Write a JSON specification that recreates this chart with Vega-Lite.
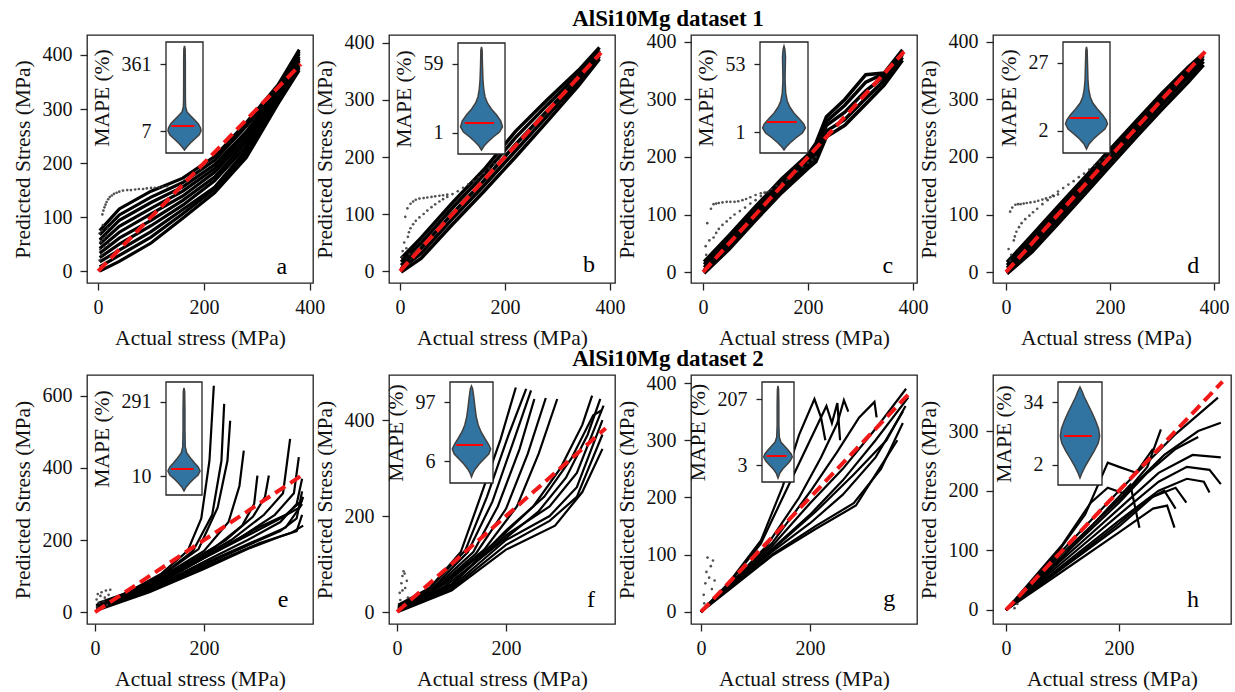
{
"$schema": "https://vega.github.io/schema/vega-lite/v6.json",
"padding": {"left": 11, "top": 7, "right": 5, "bottom": 5},
"config": {
  "font": "Liberation Serif",
  "view": {"stroke": "#222", "strokeWidth": 1.3},
  "axis": {"domain": false, "grid": false, "tickColor": "#222", "tickSize": 7, "tickWidth": 1.3, "labelFont": "Liberation Serif", "titleFont": "Liberation Serif", "labelFontSize": 20, "titleFontSize": 21.5, "labelColor": "#111", "titleColor": "#111", "titleFontWeight": "normal", "labelPadding": 4, "titlePadding": 8, "labelFlush": false, "labelOverlap": false},
  "axisX": {"labelPadding": 7, "titlePadding": 10},
  "axisY": {"labelPadding": 8},
  "title": {"font": "Liberation Serif", "fontSize": 23, "fontWeight": "bold", "color": "#000"}
},
"datasets": {
"diag": [{"x": 0}, {"x": 383}],
"one": [{}],
"ca": [
{"c":0,"x":3,"y":0},{"c":0,"x":40,"y":18},{"c":0,"x":100,"y":52},{"c":0,"x":160,"y":98},{"c":0,"x":220,"y":145},{"c":0,"x":280,"y":210},{"c":0,"x":340,"y":310},{"c":0,"x":380,"y":372},
{"c":1,"x":3,"y":8},{"c":1,"x":40,"y":29},{"c":1,"x":100,"y":63},{"c":1,"x":160,"y":106},{"c":1,"x":220,"y":152},{"c":1,"x":280,"y":217},{"c":1,"x":340,"y":314},{"c":1,"x":380,"y":376},
{"c":2,"x":3,"y":17},{"c":2,"x":40,"y":39},{"c":2,"x":100,"y":73},{"c":2,"x":160,"y":114},{"c":2,"x":220,"y":155},{"c":2,"x":280,"y":224},{"c":2,"x":340,"y":318},{"c":2,"x":380,"y":380},
{"c":3,"x":3,"y":25},{"c":3,"x":40,"y":50},{"c":3,"x":100,"y":84},{"c":3,"x":160,"y":122},{"c":3,"x":220,"y":167},{"c":3,"x":280,"y":231},{"c":3,"x":340,"y":322},{"c":3,"x":380,"y":385},
{"c":4,"x":3,"y":33},{"c":4,"x":40,"y":61},{"c":4,"x":100,"y":94},{"c":4,"x":160,"y":131},{"c":4,"x":220,"y":174},{"c":4,"x":280,"y":239},{"c":4,"x":340,"y":325},{"c":4,"x":380,"y":389},
{"c":5,"x":3,"y":42},{"c":5,"x":40,"y":72},{"c":5,"x":100,"y":106},{"c":5,"x":160,"y":139},{"c":5,"x":220,"y":183},{"c":5,"x":280,"y":246},{"c":5,"x":340,"y":330},{"c":5,"x":380,"y":393},
{"c":6,"x":3,"y":50},{"c":6,"x":40,"y":83},{"c":6,"x":100,"y":116},{"c":6,"x":160,"y":148},{"c":6,"x":220,"y":190},{"c":6,"x":280,"y":254},{"c":6,"x":340,"y":333},{"c":6,"x":380,"y":397},
{"c":7,"x":3,"y":58},{"c":7,"x":40,"y":94},{"c":7,"x":100,"y":127},{"c":7,"x":160,"y":156},{"c":7,"x":220,"y":197},{"c":7,"x":280,"y":258},{"c":7,"x":340,"y":337},{"c":7,"x":380,"y":402},
{"c":8,"x":3,"y":67},{"c":8,"x":40,"y":104},{"c":8,"x":100,"y":137},{"c":8,"x":160,"y":164},{"c":8,"x":220,"y":205},{"c":8,"x":280,"y":268},{"c":8,"x":340,"y":341},{"c":8,"x":380,"y":406},
{"c":9,"x":3,"y":75},{"c":9,"x":40,"y":115},{"c":9,"x":100,"y":148},{"c":9,"x":160,"y":172},{"c":9,"x":220,"y":212},{"c":9,"x":280,"y":275},{"c":9,"x":340,"y":345},{"c":9,"x":380,"y":410}
],
"cb": [
{"c":0,"x":2,"y":-2},{"c":0,"x":40,"y":22},{"c":0,"x":100,"y":82},{"c":0,"x":160,"y":140},{"c":0,"x":220,"y":200},{"c":0,"x":280,"y":262},{"c":0,"x":340,"y":325},{"c":0,"x":380,"y":372},
{"c":1,"x":2,"y":4},{"c":1,"x":40,"y":31},{"c":1,"x":100,"y":92},{"c":1,"x":160,"y":150},{"c":1,"x":220,"y":211},{"c":1,"x":280,"y":272},{"c":1,"x":340,"y":332},{"c":1,"x":380,"y":377},
{"c":2,"x":2,"y":10},{"c":2,"x":40,"y":40},{"c":2,"x":100,"y":101},{"c":2,"x":160,"y":159},{"c":2,"x":220,"y":222},{"c":2,"x":280,"y":281},{"c":2,"x":340,"y":338},{"c":2,"x":380,"y":382},
{"c":3,"x":2,"y":16},{"c":3,"x":40,"y":49},{"c":3,"x":100,"y":111},{"c":3,"x":160,"y":169},{"c":3,"x":220,"y":234},{"c":3,"x":280,"y":291},{"c":3,"x":340,"y":345},{"c":3,"x":380,"y":387},
{"c":4,"x":2,"y":22},{"c":4,"x":40,"y":58},{"c":4,"x":100,"y":120},{"c":4,"x":160,"y":178},{"c":4,"x":220,"y":245},{"c":4,"x":280,"y":300},{"c":4,"x":340,"y":352},{"c":4,"x":380,"y":392}
],
"cc": [
{"c":0,"x":2,"y":-2},{"c":0,"x":50,"y":40},{"c":0,"x":100,"y":90},{"c":0,"x":150,"y":138},{"c":0,"x":200,"y":180},{"c":0,"x":215,"y":192},{"c":0,"x":235,"y":235},{"c":0,"x":270,"y":255},{"c":0,"x":310,"y":292},{"c":0,"x":345,"y":325},{"c":0,"x":380,"y":368},
{"c":1,"x":2,"y":3},{"c":1,"x":50,"y":46},{"c":1,"x":100,"y":96},{"c":1,"x":150,"y":144},{"c":1,"x":200,"y":186},{"c":1,"x":215,"y":200},{"c":1,"x":235,"y":245},{"c":1,"x":270,"y":265},{"c":1,"x":310,"y":302},{"c":1,"x":345,"y":333},{"c":1,"x":380,"y":373},
{"c":2,"x":2,"y":8},{"c":2,"x":50,"y":52},{"c":2,"x":100,"y":102},{"c":2,"x":150,"y":150},{"c":2,"x":200,"y":192},{"c":2,"x":215,"y":208},{"c":2,"x":235,"y":255},{"c":2,"x":270,"y":278},{"c":2,"x":310,"y":315},{"c":2,"x":345,"y":340},{"c":2,"x":380,"y":378},
{"c":3,"x":2,"y":13},{"c":3,"x":50,"y":58},{"c":3,"x":100,"y":108},{"c":3,"x":150,"y":156},{"c":3,"x":200,"y":198},{"c":3,"x":215,"y":216},{"c":3,"x":235,"y":262},{"c":3,"x":270,"y":290},{"c":3,"x":310,"y":330},{"c":3,"x":345,"y":345},{"c":3,"x":380,"y":382},
{"c":4,"x":2,"y":18},{"c":4,"x":50,"y":64},{"c":4,"x":100,"y":114},{"c":4,"x":150,"y":162},{"c":4,"x":200,"y":204},{"c":4,"x":215,"y":224},{"c":4,"x":235,"y":270},{"c":4,"x":270,"y":300},{"c":4,"x":310,"y":343},{"c":4,"x":345,"y":346},{"c":4,"x":380,"y":386}
],
"cd": [
{"c":0,"x":2,"y":-3},{"c":0,"x":50,"y":35},{"c":0,"x":100,"y":84},{"c":0,"x":150,"y":134},{"c":0,"x":200,"y":184},{"c":0,"x":250,"y":234},{"c":0,"x":300,"y":283},{"c":0,"x":350,"y":330},{"c":0,"x":380,"y":360},
{"c":1,"x":2,"y":2},{"c":1,"x":50,"y":42},{"c":1,"x":100,"y":92},{"c":1,"x":150,"y":142},{"c":1,"x":200,"y":192},{"c":1,"x":250,"y":242},{"c":1,"x":300,"y":291},{"c":1,"x":350,"y":338},{"c":1,"x":380,"y":366},
{"c":2,"x":2,"y":7},{"c":2,"x":50,"y":50},{"c":2,"x":100,"y":100},{"c":2,"x":150,"y":150},{"c":2,"x":200,"y":200},{"c":2,"x":250,"y":250},{"c":2,"x":300,"y":299},{"c":2,"x":350,"y":345},{"c":2,"x":380,"y":371},
{"c":3,"x":2,"y":12},{"c":3,"x":50,"y":57},{"c":3,"x":100,"y":107},{"c":3,"x":150,"y":157},{"c":3,"x":200,"y":207},{"c":3,"x":250,"y":257},{"c":3,"x":300,"y":306},{"c":3,"x":350,"y":351},{"c":3,"x":380,"y":376},
{"c":4,"x":2,"y":17},{"c":4,"x":50,"y":64},{"c":4,"x":100,"y":114},{"c":4,"x":150,"y":163},{"c":4,"x":200,"y":213},{"c":4,"x":250,"y":262},{"c":4,"x":300,"y":311},{"c":4,"x":350,"y":356},{"c":4,"x":380,"y":380}
],
"ce": [
{"c":1,"x":2,"y":15},{"c":1,"x":60,"y":55},{"c":1,"x":120,"y":105},{"c":1,"x":170,"y":170},{"c":1,"x":195,"y":260},{"c":1,"x":210,"y":420},{"c":1,"x":218,"y":628},
{"c":2,"x":2,"y":20},{"c":2,"x":60,"y":55},{"c":2,"x":120,"y":100},{"c":2,"x":180,"y":170},{"c":2,"x":215,"y":270},{"c":2,"x":232,"y":420},{"c":2,"x":237,"y":578},
{"c":3,"x":2,"y":10},{"c":3,"x":60,"y":50},{"c":3,"x":130,"y":110},{"c":3,"x":190,"y":175},{"c":3,"x":225,"y":290},{"c":3,"x":243,"y":420},{"c":3,"x":248,"y":531},
{"c":4,"x":2,"y":18},{"c":4,"x":60,"y":48},{"c":4,"x":130,"y":105},{"c":4,"x":200,"y":170},{"c":4,"x":245,"y":250},{"c":4,"x":265,"y":350},{"c":4,"x":273,"y":448},
{"c":5,"x":5,"y":25},{"c":5,"x":80,"y":65},{"c":5,"x":150,"y":120},{"c":5,"x":220,"y":180},{"c":5,"x":270,"y":240},{"c":5,"x":292,"y":300},{"c":5,"x":298,"y":379},
{"c":6,"x":5,"y":15},{"c":6,"x":80,"y":60},{"c":6,"x":160,"y":125},{"c":6,"x":240,"y":200},{"c":6,"x":290,"y":265},{"c":6,"x":312,"y":320},{"c":6,"x":319,"y":379},
{"c":7,"x":5,"y":20},{"c":7,"x":90,"y":65},{"c":7,"x":170,"y":130},{"c":7,"x":250,"y":200},{"c":7,"x":310,"y":270},{"c":7,"x":345,"y":330},{"c":7,"x":358,"y":481},
{"c":8,"x":5,"y":12},{"c":8,"x":90,"y":60},{"c":8,"x":170,"y":125},{"c":8,"x":260,"y":200},{"c":8,"x":330,"y":270},{"c":8,"x":365,"y":330},{"c":8,"x":374,"y":430},
{"c":9,"x":5,"y":10},{"c":9,"x":100,"y":62},{"c":9,"x":200,"y":140},{"c":9,"x":280,"y":200},{"c":9,"x":340,"y":250},{"c":9,"x":370,"y":300},{"c":9,"x":380,"y":370},
{"c":10,"x":5,"y":8},{"c":10,"x":100,"y":58},{"c":10,"x":200,"y":130},{"c":10,"x":280,"y":185},{"c":10,"x":340,"y":225},{"c":10,"x":370,"y":260},{"c":10,"x":380,"y":335},
{"c":11,"x":5,"y":5},{"c":11,"x":100,"y":55},{"c":11,"x":200,"y":120},{"c":11,"x":280,"y":175},{"c":11,"x":340,"y":210},{"c":11,"x":370,"y":225},{"c":11,"x":380,"y":270},
{"c":12,"x":5,"y":12},{"c":12,"x":100,"y":60},{"c":12,"x":200,"y":135},{"c":12,"x":290,"y":195},{"c":12,"x":350,"y":235},{"c":12,"x":380,"y":300},
{"c":13,"x":5,"y":15},{"c":13,"x":100,"y":66},{"c":13,"x":200,"y":150},{"c":13,"x":290,"y":220},{"c":13,"x":340,"y":260},{"c":13,"x":375,"y":290},{"c":13,"x":382,"y":320},
{"c":14,"x":5,"y":10},{"c":14,"x":100,"y":58},{"c":14,"x":200,"y":125},{"c":14,"x":300,"y":190},{"c":14,"x":360,"y":220},{"c":14,"x":382,"y":240},
{"c":15,"x":5,"y":18},{"c":15,"x":110,"y":72},{"c":15,"x":210,"y":160},{"c":15,"x":300,"y":235},{"c":15,"x":350,"y":270},{"c":15,"x":380,"y":310}
],
"cf": [
{"c":1,"x":2,"y":10},{"c":1,"x":60,"y":50},{"c":1,"x":117,"y":125},{"c":1,"x":150,"y":230},{"c":1,"x":190,"y":360},{"c":1,"x":218,"y":468},
{"c":2,"x":2,"y":15},{"c":2,"x":60,"y":50},{"c":2,"x":125,"y":128},{"c":2,"x":165,"y":240},{"c":2,"x":205,"y":370},{"c":2,"x":237,"y":465},
{"c":3,"x":2,"y":8},{"c":3,"x":65,"y":50},{"c":3,"x":130,"y":125},{"c":3,"x":175,"y":230},{"c":3,"x":215,"y":360},{"c":3,"x":246,"y":462},
{"c":4,"x":2,"y":12},{"c":4,"x":70,"y":52},{"c":4,"x":140,"y":125},{"c":4,"x":185,"y":220},{"c":4,"x":225,"y":340},{"c":4,"x":252,"y":444},
{"c":5,"x":2,"y":5},{"c":5,"x":70,"y":48},{"c":5,"x":145,"y":122},{"c":5,"x":200,"y":215},{"c":5,"x":240,"y":330},{"c":5,"x":273,"y":446},
{"c":6,"x":2,"y":10},{"c":6,"x":80,"y":55},{"c":6,"x":160,"y":130},{"c":6,"x":220,"y":220},{"c":6,"x":260,"y":330},{"c":6,"x":294,"y":444},
{"c":7,"x":2,"y":8},{"c":7,"x":90,"y":60},{"c":7,"x":180,"y":145},{"c":7,"x":250,"y":220},{"c":7,"x":300,"y":300},{"c":7,"x":340,"y":390},{"c":7,"x":358,"y":451},
{"c":8,"x":2,"y":6},{"c":8,"x":90,"y":55},{"c":8,"x":190,"y":145},{"c":8,"x":260,"y":210},{"c":8,"x":310,"y":280},{"c":8,"x":350,"y":370},{"c":8,"x":373,"y":444},
{"c":9,"x":2,"y":4},{"c":9,"x":100,"y":58},{"c":9,"x":200,"y":160},{"c":9,"x":280,"y":220},{"c":9,"x":330,"y":290},{"c":9,"x":379,"y":430},
{"c":10,"x":2,"y":3},{"c":10,"x":100,"y":52},{"c":10,"x":200,"y":150},{"c":10,"x":280,"y":200},{"c":10,"x":330,"y":260},{"c":10,"x":377,"y":400},
{"c":11,"x":2,"y":2},{"c":11,"x":100,"y":48},{"c":11,"x":200,"y":140},{"c":11,"x":280,"y":190},{"c":11,"x":330,"y":240},{"c":11,"x":377,"y":370},
{"c":12,"x":2,"y":0},{"c":12,"x":100,"y":45},{"c":12,"x":200,"y":130},{"c":12,"x":290,"y":180},{"c":12,"x":340,"y":250},{"c":12,"x":377,"y":340},
{"c":13,"x":2,"y":5},{"c":13,"x":100,"y":55},{"c":13,"x":200,"y":170},{"c":13,"x":270,"y":240},{"c":13,"x":320,"y":320},{"c":13,"x":360,"y":410},{"c":13,"x":375,"y":420}
],
"cg": [
{"c":1,"x":0,"y":0},{"c":1,"x":50,"y":50},{"c":1,"x":110,"y":125},{"c":1,"x":150,"y":220},{"c":1,"x":180,"y":310},{"c":1,"x":208,"y":372},{"c":1,"x":220,"y":340},{"c":1,"x":228,"y":300},
{"c":2,"x":0,"y":0},{"c":2,"x":50,"y":48},{"c":2,"x":110,"y":120},{"c":2,"x":160,"y":220},{"c":2,"x":200,"y":300},{"c":2,"x":230,"y":360},{"c":2,"x":240,"y":330},{"c":2,"x":250,"y":365},{"c":2,"x":255,"y":300},
{"c":3,"x":0,"y":2},{"c":3,"x":60,"y":55},{"c":3,"x":120,"y":115},{"c":3,"x":180,"y":200},{"c":3,"x":220,"y":270},{"c":3,"x":250,"y":330},{"c":3,"x":262,"y":370},{"c":3,"x":270,"y":350},
{"c":4,"x":0,"y":0},{"c":4,"x":60,"y":55},{"c":4,"x":130,"y":120},{"c":4,"x":200,"y":210},{"c":4,"x":250,"y":280},{"c":4,"x":290,"y":340},{"c":4,"x":318,"y":367},{"c":4,"x":322,"y":340},
{"c":5,"x":0,"y":0},{"c":5,"x":60,"y":52},{"c":5,"x":130,"y":115},{"c":5,"x":200,"y":190},{"c":5,"x":260,"y":250},{"c":5,"x":320,"y":320},{"c":5,"x":376,"y":390},
{"c":6,"x":0,"y":0},{"c":6,"x":60,"y":50},{"c":6,"x":130,"y":110},{"c":6,"x":200,"y":170},{"c":6,"x":260,"y":230},{"c":6,"x":320,"y":300},{"c":6,"x":380,"y":375},
{"c":7,"x":0,"y":0},{"c":7,"x":60,"y":50},{"c":7,"x":130,"y":105},{"c":7,"x":200,"y":155},{"c":7,"x":260,"y":205},{"c":7,"x":320,"y":270},{"c":7,"x":370,"y":350},
{"c":8,"x":0,"y":0},{"c":8,"x":60,"y":48},{"c":8,"x":130,"y":100},{"c":8,"x":210,"y":150},{"c":8,"x":280,"y":190},{"c":8,"x":330,"y":250},{"c":8,"x":370,"y":330},
{"c":9,"x":0,"y":0},{"c":9,"x":60,"y":45},{"c":9,"x":130,"y":98},{"c":9,"x":210,"y":145},{"c":9,"x":284,"y":186},{"c":9,"x":336,"y":264},{"c":9,"x":360,"y":300},
{"c":10,"x":0,"y":0},{"c":10,"x":60,"y":52},{"c":10,"x":130,"y":108},{"c":10,"x":210,"y":175},{"c":10,"x":280,"y":240},{"c":10,"x":340,"y":300},{"c":10,"x":375,"y":360}
],
"ch": [
{"c":1,"x":0,"y":0},{"c":1,"x":100,"y":100},{"c":1,"x":200,"y":200},{"c":1,"x":300,"y":295},{"c":1,"x":375,"y":356},
{"c":2,"x":0,"y":0},{"c":2,"x":100,"y":95},{"c":2,"x":200,"y":185},{"c":2,"x":280,"y":260},{"c":2,"x":340,"y":300},{"c":2,"x":380,"y":314},
{"c":3,"x":0,"y":0},{"c":3,"x":100,"y":85},{"c":3,"x":200,"y":170},{"c":3,"x":270,"y":230},{"c":3,"x":330,"y":260},{"c":3,"x":380,"y":256},
{"c":4,"x":0,"y":0},{"c":4,"x":100,"y":80},{"c":4,"x":200,"y":160},{"c":4,"x":270,"y":215},{"c":4,"x":320,"y":240},{"c":4,"x":360,"y":235},{"c":4,"x":380,"y":211},
{"c":5,"x":0,"y":0},{"c":5,"x":100,"y":75},{"c":5,"x":200,"y":150},{"c":5,"x":270,"y":200},{"c":5,"x":320,"y":220},{"c":5,"x":350,"y":215},{"c":5,"x":360,"y":197},
{"c":6,"x":0,"y":0},{"c":6,"x":100,"y":70},{"c":6,"x":200,"y":140},{"c":6,"x":260,"y":190},{"c":6,"x":300,"y":205},{"c":6,"x":319,"y":180},
{"c":7,"x":0,"y":0},{"c":7,"x":100,"y":65},{"c":7,"x":200,"y":130},{"c":7,"x":260,"y":170},{"c":7,"x":285,"y":175},{"c":7,"x":298,"y":138},
{"c":8,"x":0,"y":0},{"c":8,"x":100,"y":110},{"c":8,"x":150,"y":180},{"c":8,"x":180,"y":205},{"c":8,"x":210,"y":195},{"c":8,"x":250,"y":240},{"c":8,"x":274,"y":303},
{"c":9,"x":0,"y":0},{"c":9,"x":90,"y":95},{"c":9,"x":140,"y":160},{"c":9,"x":180,"y":247},{"c":9,"x":200,"y":240},{"c":9,"x":230,"y":230},{"c":9,"x":260,"y":270},
{"c":10,"x":0,"y":0},{"c":10,"x":100,"y":88},{"c":10,"x":180,"y":170},{"c":10,"x":220,"y":210},{"c":10,"x":236,"y":138},
{"c":11,"x":0,"y":0},{"c":11,"x":100,"y":90},{"c":11,"x":200,"y":180},{"c":11,"x":250,"y":230},{"c":11,"x":300,"y":270},{"c":11,"x":340,"y":290},
{"c":12,"x":0,"y":0},{"c":12,"x":100,"y":72},{"c":12,"x":200,"y":145},{"c":12,"x":250,"y":185},{"c":12,"x":280,"y":200},{"c":12,"x":300,"y":170}
],
"da": [{"x":8,"y":105},{"x":10,"y":112},{"x":12,"y":118},{"x":14,"y":123},{"x":16,"y":128},{"x":19,"y":133},{"x":22,"y":137},{"x":26,"y":140},{"x":30,"y":143},{"x":35,"y":145},{"x":40,"y":147},{"x":47,"y":149},{"x":55,"y":150},{"x":62,"y":150},{"x":70,"y":151},{"x":77,"y":152},{"x":85,"y":152},{"x":92,"y":153},{"x":100,"y":154},{"x":107,"y":154},{"x":115,"y":155},{"x":122,"y":156},{"x":130,"y":157},{"x":3,"y":70},{"x":5,"y":55},{"x":4,"y":40},{"x":7,"y":75},{"x":10,"y":60},{"x":6,"y":30},{"x":9,"y":85},{"x":12,"y":45},{"x":15,"y":65},{"x":3,"y":20},{"x":18,"y":80},{"x":20,"y":50}],
"db": [{"x":15,"y":60},{"x":17,"y":68},{"x":20,"y":75},{"x":25,"y":82},{"x":30,"y":88},{"x":37,"y":94},{"x":45,"y":100},{"x":52,"y":106},{"x":60,"y":112},{"x":67,"y":117},{"x":75,"y":122},{"x":82,"y":126},{"x":90,"y":130},{"x":100,"y":135},{"x":110,"y":140},{"x":120,"y":146},{"x":130,"y":152},{"x":140,"y":158},{"x":150,"y":165},{"x":160,"y":172},{"x":170,"y":180},{"x":180,"y":187},{"x":190,"y":195},{"x":10,"y":95},{"x":14,"y":110},{"x":20,"y":118},{"x":25,"y":122},{"x":30,"y":125},{"x":37,"y":127},{"x":45,"y":128},{"x":52,"y":129},{"x":60,"y":130},{"x":67,"y":131},{"x":75,"y":132},{"x":82,"y":133},{"x":90,"y":134},{"x":5,"y":35},{"x":8,"y":50},{"x":12,"y":40},{"x":18,"y":30},{"x":4,"y":25}],
"dc": [{"x":20,"y":60},{"x":25,"y":68},{"x":30,"y":75},{"x":37,"y":82},{"x":45,"y":88},{"x":52,"y":94},{"x":60,"y":100},{"x":70,"y":106},{"x":80,"y":112},{"x":90,"y":119},{"x":100,"y":125},{"x":110,"y":132},{"x":120,"y":138},{"x":130,"y":144},{"x":140,"y":150},{"x":150,"y":155},{"x":160,"y":160},{"x":170,"y":168},{"x":180,"y":175},{"x":190,"y":183},{"x":200,"y":190},{"x":208,"y":195},{"x":215,"y":200},{"x":15,"y":110},{"x":20,"y":118},{"x":25,"y":119},{"x":30,"y":120},{"x":37,"y":121},{"x":45,"y":122},{"x":52,"y":122},{"x":60,"y":122},{"x":67,"y":123},{"x":75,"y":125},{"x":82,"y":127},{"x":90,"y":130},{"x":100,"y":134},{"x":110,"y":137},{"x":117,"y":138},{"x":125,"y":140},{"x":5,"y":45},{"x":8,"y":85},{"x":12,"y":55},{"x":6,"y":30}],
"dd": [{"x":15,"y":55},{"x":17,"y":62},{"x":20,"y":70},{"x":25,"y":78},{"x":30,"y":85},{"x":37,"y":92},{"x":45,"y":98},{"x":52,"y":104},{"x":60,"y":110},{"x":70,"y":118},{"x":80,"y":125},{"x":90,"y":133},{"x":100,"y":140},{"x":110,"y":146},{"x":120,"y":152},{"x":130,"y":158},{"x":140,"y":165},{"x":150,"y":171},{"x":160,"y":178},{"x":170,"y":185},{"x":180,"y":192},{"x":190,"y":198},{"x":200,"y":205},{"x":8,"y":105},{"x":12,"y":112},{"x":18,"y":117},{"x":23,"y":118},{"x":28,"y":118},{"x":34,"y":119},{"x":40,"y":120},{"x":47,"y":121},{"x":55,"y":122},{"x":62,"y":124},{"x":70,"y":126},{"x":77,"y":128},{"x":85,"y":130},{"x":92,"y":132},{"x":100,"y":135},{"x":5,"y":40},{"x":8,"y":20},{"x":10,"y":30}],
"de": [{"x":3,"y":35},{"x":5,"y":50},{"x":8,"y":25},{"x":10,"y":45},{"x":12,"y":55},{"x":15,"y":30},{"x":18,"y":40},{"x":20,"y":60},{"x":25,"y":48},{"x":28,"y":62},{"x":4,"y":15},{"x":22,"y":20}],
"df": [{"x":5,"y":40},{"x":8,"y":60},{"x":10,"y":75},{"x":12,"y":85},{"x":15,"y":50},{"x":18,"y":65},{"x":20,"y":30},{"x":6,"y":25},{"x":10,"y":45},{"x":14,"y":80}],
"dg": [{"x":5,"y":30},{"x":8,"y":50},{"x":10,"y":70},{"x":12,"y":95},{"x":15,"y":60},{"x":18,"y":80},{"x":20,"y":40},{"x":22,"y":90},{"x":6,"y":15},{"x":25,"y":55}],
"dh": [{"x":5,"y":5},{"x":10,"y":8},{"x":15,"y":3},{"x":20,"y":10}],
"va": [{"v":2.27,"w":0},{"v":2.71,"w":0.14},{"v":3.44,"w":0.36},{"v":4.36,"w":0.62},{"v":5.52,"w":0.88},{"v":7.0,"w":1.0},{"v":8.36,"w":0.97},{"v":10.6,"w":0.84},{"v":13.4,"w":0.62},{"v":17.0,"w":0.38},{"v":21.6,"w":0.15},{"v":29.0,"w":0.07},{"v":44,"w":0.055},{"v":144,"w":0.05},{"v":472,"w":0.05},{"v":906,"w":0.04},{"v":1082,"w":0}],
"vb": [{"v":0.366,"w":0},{"v":0.464,"w":0.12},{"v":0.588,"w":0.3},{"v":0.789,"w":0.56},{"v":1.06,"w":0.86},{"v":1.426,"w":1.0},{"v":2.03,"w":0.92},{"v":2.9,"w":0.72},{"v":4.13,"w":0.47},{"v":5.89,"w":0.28},{"v":8.4,"w":0.17},{"v":12.7,"w":0.11},{"v":22.9,"w":0.07},{"v":55.7,"w":0.045},{"v":135,"w":0.03},{"v":161,"w":0}],
"vc": [{"v":0.35,"w":0},{"v":0.4166,"w":0.1},{"v":0.526,"w":0.28},{"v":0.705,"w":0.55},{"v":0.943,"w":0.86},{"v":1.263,"w":1.0},{"v":1.596,"w":0.92},{"v":2.136,"w":0.72},{"v":3.03,"w":0.46},{"v":4.3,"w":0.27},{"v":6.11,"w":0.15},{"v":9.74,"w":0.08},{"v":20.8,"w":0.05},{"v":44.5,"w":0.06},{"v":79.7,"w":0.07},{"v":127,"w":0.04},{"v":151.6,"w":0}],
"vd": [{"v":1.004,"w":0},{"v":1.216,"w":0.12},{"v":1.472,"w":0.33},{"v":1.783,"w":0.6},{"v":2.16,"w":0.88},{"v":2.615,"w":1.0},{"v":3.05,"w":0.94},{"v":3.69,"w":0.77},{"v":4.64,"w":0.52},{"v":5.84,"w":0.3},{"v":7.35,"w":0.18},{"v":9.6,"w":0.11},{"v":14.08,"w":0.07},{"v":25.0,"w":0.05},{"v":44.4,"w":0.03},{"v":49.8,"w":0}],
"ve": [{"v":5.05,"w":0},{"v":6.06,"w":0.14},{"v":7.27,"w":0.35},{"v":8.72,"w":0.6},{"v":10.47,"w":0.88},{"v":12.56,"w":1.0},{"v":15.07,"w":0.88},{"v":18.1,"w":0.66},{"v":22.7,"w":0.4},{"v":28.5,"w":0.17},{"v":37.5,"w":0.08},{"v":81.3,"w":0.06},{"v":202,"w":0.06},{"v":480,"w":0.04},{"v":550.7,"w":0}],
"vf": [{"v":2.82,"w":0},{"v":3.41,"w":0.08},{"v":4.12,"w":0.2},{"v":5.21,"w":0.4},{"v":6.6,"w":0.65},{"v":8.35,"w":0.9},{"v":10.57,"w":1.0},{"v":13.38,"w":0.88},{"v":17.76,"w":0.68},{"v":23.6,"w":0.5},{"v":32.8,"w":0.35},{"v":47.8,"w":0.25},{"v":76.6,"w":0.18},{"v":122.8,"w":0.12},{"v":179,"w":0.06},{"v":206.3,"w":0}],
"vg": [{"v":1.303,"w":0},{"v":1.796,"w":0.13},{"v":2.32,"w":0.33},{"v":3.0,"w":0.6},{"v":3.88,"w":0.85},{"v":5.01,"w":1.0},{"v":6.08,"w":0.92},{"v":7.85,"w":0.7},{"v":10.15,"w":0.45},{"v":13.12,"w":0.2},{"v":18.08,"w":0.09},{"v":39.0,"w":0.06},{"v":140.9,"w":0.06},{"v":393,"w":0.04},{"v":476.9,"w":0}],
"vh": [{"v":1.115,"w":0},{"v":1.395,"w":0.1},{"v":1.83,"w":0.25},{"v":2.62,"w":0.48},{"v":3.75,"w":0.72},{"v":5.38,"w":0.93},{"v":7.37,"w":1.0},{"v":10.1,"w":0.95},{"v":14.47,"w":0.8},{"v":20.7,"w":0.62},{"v":29.7,"w":0.42},{"v":42.6,"w":0.22},{"v":55.8,"w":0.1},{"v":66.8,"w":0}]
},
"columns": 4,
"spacing": {"row": 92, "column": 76},
"bounds": "flush",
"concat": [
{"width": 226, "height": 248,
 "layer": [
  {"layer": [
   {"data": {"name": "ca"}, "mark": {"type": "line", "color": "#000", "strokeWidth": 3.2},
    "encoding": {"x": {"field": "x", "type": "quantitative", "scale": {"domain": [-21, 406], "nice": false, "zero": false}, "axis": {"values": [0, 200, 400], "title": "Actual stress (MPa)"}},
                 "y": {"field": "y", "type": "quantitative", "scale": {"domain": [-22, 437], "nice": false, "zero": false}, "axis": {"values": [0, 100, 200, 300, 400], "title": "Predicted Stress (MPa)"}},
                 "detail": {"field": "c", "type": "nominal"}}},
   {"data": {"name": "da"}, "mark": {"type": "circle", "size": 7, "color": "#333", "opacity": 0.85},
    "encoding": {"x": {"field": "x", "type": "quantitative"}, "y": {"field": "y", "type": "quantitative"}}},
   {"data": {"name": "diag"}, "mark": {"type": "line", "color": "#f21818", "strokeWidth": 4, "strokeDash": [12, 6]},
    "encoding": {"x": {"field": "x", "type": "quantitative"}, "y": {"field": "x", "type": "quantitative"}}},
   {"data": {"name": "one"}, "mark": {"type": "text", "fontSize": 24, "align": "center", "baseline": "alphabetic", "color": "#000"},
    "encoding": {"x": {"datum": 347, "type": "quantitative"}, "y": {"datum": -5, "type": "quantitative"}, "text": {"value": "a"}}}
  ]},
  {"layer": [
   {"data": {"name": "one"}, "mark": {"type": "rect", "fill": "#fff", "stroke": "#222", "strokeWidth": 1.3},
    "encoding": {"x": {"datum": -0.06, "type": "quantitative", "scale": {"domain": [-0.06, 1.06], "range": [79, 116], "nice": false, "zero": false}, "axis": null},
                 "x2": {"datum": 1.06},
                 "y": {"datum": 1.9, "type": "quantitative", "scale": {"type": "log", "domain": [1.9, 1370], "range": [118, 7], "nice": false}, "axis": {"orient": "left", "offset": -79, "values": [7, 361], "format": "d", "title": "MAPE (%)", "tickSize": 6, "labelPadding": 9, "titlePadding": 8}},
                 "y2": {"datum": 1370}}},
   {"data": {"name": "va"}, "mark": {"type": "area", "orient": "horizontal", "fill": "#3274a1", "stroke": "#404040", "strokeWidth": 1.5},
    "encoding": {"y": {"field": "v", "type": "quantitative"}, "x": {"field": "w", "type": "quantitative", "stack": "center", "impute": null}}},
   {"data": {"name": "one"}, "mark": {"type": "rule", "color": "#ff0000", "strokeWidth": 2},
    "encoding": {"x": {"datum": 0.1, "type": "quantitative"}, "x2": {"datum": 0.8}, "y": {"datum": 9.4, "type": "quantitative"}}}
  ]}
 ],
 "resolve": {"scale": {"x": "independent", "y": "independent"}}
},
{"width": 226, "height": 248,
 "title": {"text": "AlSi10Mg dataset 1", "frame": "group", "anchor": "middle", "dx": 166, "offset": -16, "baseline": "alphabetic"},
 "layer": [
  {"layer": [
   {"data": {"name": "cb"}, "mark": {"type": "line", "color": "#000", "strokeWidth": 3.5},
    "encoding": {"x": {"field": "x", "type": "quantitative", "scale": {"domain": [-21, 409.5], "nice": false, "zero": false}, "axis": {"values": [0, 200, 400], "title": "Actual stress (MPa)"}},
                 "y": {"field": "y", "type": "quantitative", "scale": {"domain": [-21, 414], "nice": false, "zero": false}, "axis": {"values": [0, 100, 200, 300, 400], "title": "Predicted Stress (MPa)"}},
                 "detail": {"field": "c", "type": "nominal"}}},
   {"data": {"name": "db"}, "mark": {"type": "circle", "size": 7, "color": "#333", "opacity": 0.85},
    "encoding": {"x": {"field": "x", "type": "quantitative"}, "y": {"field": "y", "type": "quantitative"}}},
   {"data": {"name": "diag"}, "mark": {"type": "line", "color": "#f21818", "strokeWidth": 4, "strokeDash": [12, 6]},
    "encoding": {"x": {"field": "x", "type": "quantitative"}, "y": {"field": "x", "type": "quantitative"}}},
   {"data": {"name": "one"}, "mark": {"type": "text", "fontSize": 24, "align": "center", "baseline": "alphabetic", "color": "#000"},
    "encoding": {"x": {"datum": 360, "type": "quantitative"}, "y": {"datum": -2, "type": "quantitative"}, "text": {"value": "b"}}}
  ]},
  {"layer": [
   {"data": {"name": "one"}, "mark": {"type": "rect", "fill": "#fff", "stroke": "#222", "strokeWidth": 1.3},
    "encoding": {"x": {"datum": -0.06, "type": "quantitative", "scale": {"domain": [-0.06, 1.06], "range": [69, 116], "nice": false, "zero": false}, "axis": null},
                 "x2": {"datum": 1.06},
                 "y": {"datum": 0.289, "type": "quantitative", "scale": {"type": "log", "domain": [0.289, 204], "range": [119, 8], "nice": false}, "axis": {"orient": "left", "offset": -69, "values": [1, 59], "format": "d", "title": "MAPE (%)", "tickSize": 6, "labelPadding": 9, "titlePadding": 8}},
                 "y2": {"datum": 204}}},
   {"data": {"name": "vb"}, "mark": {"type": "area", "orient": "horizontal", "fill": "#3274a1", "stroke": "#404040", "strokeWidth": 1.5},
    "encoding": {"y": {"field": "v", "type": "quantitative"}, "x": {"field": "w", "type": "quantitative", "stack": "center", "impute": null}}},
   {"data": {"name": "one"}, "mark": {"type": "rule", "color": "#ff0000", "strokeWidth": 2},
    "encoding": {"x": {"datum": 0.1, "type": "quantitative"}, "x2": {"datum": 0.8}, "y": {"datum": 1.806, "type": "quantitative"}}}
  ]}
 ],
 "resolve": {"scale": {"x": "independent", "y": "independent"}}
},
{"width": 226, "height": 248,
 "layer": [
  {"layer": [
   {"data": {"name": "cc"}, "mark": {"type": "line", "color": "#000", "strokeWidth": 3.5},
    "encoding": {"x": {"field": "x", "type": "quantitative", "scale": {"domain": [-23, 407.6], "nice": false, "zero": false}, "axis": {"values": [0, 200, 400], "title": "Actual stress (MPa)"}},
                 "y": {"field": "y", "type": "quantitative", "scale": {"domain": [-19, 412], "nice": false, "zero": false}, "axis": {"values": [0, 100, 200, 300, 400], "title": "Predicted Stress (MPa)"}},
                 "detail": {"field": "c", "type": "nominal"}}},
   {"data": {"name": "dc"}, "mark": {"type": "circle", "size": 7, "color": "#333", "opacity": 0.85},
    "encoding": {"x": {"field": "x", "type": "quantitative"}, "y": {"field": "y", "type": "quantitative"}}},
   {"data": {"name": "diag"}, "mark": {"type": "line", "color": "#f21818", "strokeWidth": 4, "strokeDash": [12, 6]},
    "encoding": {"x": {"field": "x", "type": "quantitative"}, "y": {"field": "x", "type": "quantitative"}}},
   {"data": {"name": "one"}, "mark": {"type": "text", "fontSize": 24, "align": "center", "baseline": "alphabetic", "color": "#000"},
    "encoding": {"x": {"datum": 352, "type": "quantitative"}, "y": {"datum": -2, "type": "quantitative"}, "text": {"value": "c"}}}
  ]},
  {"layer": [
   {"data": {"name": "one"}, "mark": {"type": "rect", "fill": "#fff", "stroke": "#222", "strokeWidth": 1.3},
    "encoding": {"x": {"datum": -0.06, "type": "quantitative", "scale": {"domain": [-0.06, 1.06], "range": [69, 117], "nice": false, "zero": false}, "axis": null},
                 "x2": {"datum": 1.06},
                 "y": {"datum": 0.2935, "type": "quantitative", "scale": {"type": "log", "domain": [0.2935, 191.5], "range": [118, 7], "nice": false}, "axis": {"orient": "left", "offset": -69, "values": [1, 53], "format": "d", "title": "MAPE (%)", "tickSize": 6, "labelPadding": 9, "titlePadding": 8}},
                 "y2": {"datum": 191.5}}},
   {"data": {"name": "vc"}, "mark": {"type": "area", "orient": "horizontal", "fill": "#3274a1", "stroke": "#404040", "strokeWidth": 1.5},
    "encoding": {"y": {"field": "v", "type": "quantitative"}, "x": {"field": "w", "type": "quantitative", "stack": "center", "impute": null}}},
   {"data": {"name": "one"}, "mark": {"type": "rule", "color": "#ff0000", "strokeWidth": 2},
    "encoding": {"x": {"datum": 0.1, "type": "quantitative"}, "x2": {"datum": 0.8}, "y": {"datum": 1.793, "type": "quantitative"}}}
  ]}
 ],
 "resolve": {"scale": {"x": "independent", "y": "independent"}}
},
{"width": 226, "height": 248,
 "layer": [
  {"layer": [
   {"data": {"name": "cd"}, "mark": {"type": "line", "color": "#000", "strokeWidth": 3.5},
    "encoding": {"x": {"field": "x", "type": "quantitative", "scale": {"domain": [-25, 409.6], "nice": false, "zero": false}, "axis": {"values": [0, 200, 400], "title": "Actual stress (MPa)"}},
                 "y": {"field": "y", "type": "quantitative", "scale": {"domain": [-19, 412], "nice": false, "zero": false}, "axis": {"values": [0, 100, 200, 300, 400], "title": "Predicted Stress (MPa)"}},
                 "detail": {"field": "c", "type": "nominal"}}},
   {"data": {"name": "dd"}, "mark": {"type": "circle", "size": 7, "color": "#333", "opacity": 0.85},
    "encoding": {"x": {"field": "x", "type": "quantitative"}, "y": {"field": "y", "type": "quantitative"}}},
   {"data": {"name": "diag"}, "mark": {"type": "line", "color": "#f21818", "strokeWidth": 4, "strokeDash": [12, 6]},
    "encoding": {"x": {"field": "x", "type": "quantitative"}, "y": {"field": "x", "type": "quantitative"}}},
   {"data": {"name": "one"}, "mark": {"type": "text", "fontSize": 24, "align": "center", "baseline": "alphabetic", "color": "#000"},
    "encoding": {"x": {"datum": 360, "type": "quantitative"}, "y": {"datum": -2, "type": "quantitative"}, "text": {"value": "d"}}}
  ]},
  {"layer": [
   {"data": {"name": "one"}, "mark": {"type": "rect", "fill": "#fff", "stroke": "#222", "strokeWidth": 1.3},
    "encoding": {"x": {"datum": -0.06, "type": "quantitative", "scale": {"domain": [-0.06, 1.06], "range": [70, 117], "nice": false, "zero": false}, "axis": null},
                 "x2": {"datum": 1.06},
                 "y": {"datum": 0.8616, "type": "quantitative", "scale": {"type": "log", "domain": [0.8616, 60.3], "range": [118, 7], "nice": false}, "axis": {"orient": "left", "offset": -70, "values": [2, 27], "format": "d", "title": "MAPE (%)", "tickSize": 6, "labelPadding": 9, "titlePadding": 8}},
                 "y2": {"datum": 60.3}}},
   {"data": {"name": "vd"}, "mark": {"type": "area", "orient": "horizontal", "fill": "#3274a1", "stroke": "#404040", "strokeWidth": 1.5},
    "encoding": {"y": {"field": "v", "type": "quantitative"}, "x": {"field": "w", "type": "quantitative", "stack": "center", "impute": null}}},
   {"data": {"name": "one"}, "mark": {"type": "rule", "color": "#ff0000", "strokeWidth": 2},
    "encoding": {"x": {"datum": 0.1, "type": "quantitative"}, "x2": {"datum": 0.8}, "y": {"datum": 3.29, "type": "quantitative"}}}
  ]}
 ],
 "resolve": {"scale": {"x": "independent", "y": "independent"}}
},
{"width": 226, "height": 249,
 "layer": [
  {"layer": [
   {"data": {"name": "ce"}, "mark": {"type": "line", "color": "#000", "strokeWidth": 2.2},
    "encoding": {"x": {"field": "x", "type": "quantitative", "scale": {"domain": [-14.7, 400], "nice": false, "zero": false}, "axis": {"values": [0, 200], "title": "Actual stress (MPa)"}},
                 "y": {"field": "y", "type": "quantitative", "scale": {"domain": [-33, 658], "nice": false, "zero": false}, "axis": {"values": [0, 200, 400, 600], "title": "Predicted Stress (MPa)"}},
                 "detail": {"field": "c", "type": "nominal"}}},
   {"data": {"name": "de"}, "mark": {"type": "circle", "size": 7, "color": "#333", "opacity": 0.85},
    "encoding": {"x": {"field": "x", "type": "quantitative"}, "y": {"field": "y", "type": "quantitative"}}},
   {"data": {"name": "diag"}, "mark": {"type": "line", "color": "#f21818", "strokeWidth": 4, "strokeDash": [12, 6]},
    "encoding": {"x": {"field": "x", "type": "quantitative"}, "y": {"field": "x", "type": "quantitative"}}},
   {"data": {"name": "one"}, "mark": {"type": "text", "fontSize": 24, "align": "center", "baseline": "alphabetic", "color": "#000"},
    "encoding": {"x": {"datum": 345, "type": "quantitative"}, "y": {"datum": 14, "type": "quantitative"}, "text": {"value": "e"}}}
  ]},
  {"layer": [
   {"data": {"name": "one"}, "mark": {"type": "rect", "fill": "#fff", "stroke": "#222", "strokeWidth": 1.3},
    "encoding": {"x": {"datum": -0.06, "type": "quantitative", "scale": {"domain": [-0.06, 1.06], "range": [79, 115], "nice": false, "zero": false}, "axis": null},
                 "x2": {"datum": 1.06},
                 "y": {"datum": 4.21, "type": "quantitative", "scale": {"type": "log", "domain": [4.21, 723.6], "range": [120, 7], "nice": false}, "axis": {"orient": "left", "offset": -79, "values": [10, 291], "format": "d", "title": "MAPE (%)", "tickSize": 6, "labelPadding": 9, "titlePadding": 8}},
                 "y2": {"datum": 723.6}}},
   {"data": {"name": "ve"}, "mark": {"type": "area", "orient": "horizontal", "fill": "#3274a1", "stroke": "#404040", "strokeWidth": 1.5},
    "encoding": {"y": {"field": "v", "type": "quantitative"}, "x": {"field": "w", "type": "quantitative", "stack": "center", "impute": null}}},
   {"data": {"name": "one"}, "mark": {"type": "rule", "color": "#ff0000", "strokeWidth": 2},
    "encoding": {"x": {"datum": 0.1, "type": "quantitative"}, "x2": {"datum": 0.8}, "y": {"datum": 13.76, "type": "quantitative"}}}
  ]}
 ],
 "resolve": {"scale": {"x": "independent", "y": "independent"}}
},
{"width": 226, "height": 249,
 "title": {"text": "AlSi10Mg dataset 2", "frame": "group", "anchor": "middle", "dx": 166, "offset": -14, "baseline": "alphabetic"},
 "layer": [
  {"layer": [
   {"data": {"name": "cf"}, "mark": {"type": "line", "color": "#000", "strokeWidth": 2.2},
    "encoding": {"x": {"field": "x", "type": "quantitative", "scale": {"domain": [-14.7, 400], "nice": false, "zero": false}, "axis": {"values": [0, 200], "title": "Actual stress (MPa)"}},
                 "y": {"field": "y", "type": "quantitative", "scale": {"domain": [-25, 494], "nice": false, "zero": false}, "axis": {"values": [0, 200, 400], "title": "Predicted Stress (MPa)"}},
                 "detail": {"field": "c", "type": "nominal"}}},
   {"data": {"name": "df"}, "mark": {"type": "circle", "size": 7, "color": "#333", "opacity": 0.85},
    "encoding": {"x": {"field": "x", "type": "quantitative"}, "y": {"field": "y", "type": "quantitative"}}},
   {"data": {"name": "diag"}, "mark": {"type": "line", "color": "#f21818", "strokeWidth": 4, "strokeDash": [12, 6]},
    "encoding": {"x": {"field": "x", "type": "quantitative"}, "y": {"field": "x", "type": "quantitative"}}},
   {"data": {"name": "one"}, "mark": {"type": "text", "fontSize": 24, "align": "center", "baseline": "alphabetic", "color": "#000"},
    "encoding": {"x": {"datum": 356, "type": "quantitative"}, "y": {"datum": 10, "type": "quantitative"}, "text": {"value": "f"}}}
  ]},
  {"layer": [
   {"data": {"name": "one"}, "mark": {"type": "rect", "fill": "#fff", "stroke": "#222", "strokeWidth": 1.3},
    "encoding": {"x": {"datum": -0.06, "type": "quantitative", "scale": {"domain": [-0.06, 1.06], "range": [61, 104], "nice": false, "zero": false}, "axis": null},
                 "x2": {"datum": 1.06},
                 "y": {"datum": 2.126, "type": "quantitative", "scale": {"type": "log", "domain": [2.126, 249.2], "range": [108, 7], "nice": false}, "axis": {"orient": "left", "offset": -61, "values": [6, 97], "format": "d", "title": "MAPE (%)", "tickSize": 6, "labelPadding": 9, "titlePadding": 8}},
                 "y2": {"datum": 249.2}}},
   {"data": {"name": "vf"}, "mark": {"type": "area", "orient": "horizontal", "fill": "#3274a1", "stroke": "#404040", "strokeWidth": 1.5},
    "encoding": {"y": {"field": "v", "type": "quantitative"}, "x": {"field": "w", "type": "quantitative", "stack": "center", "impute": null}}},
   {"data": {"name": "one"}, "mark": {"type": "rule", "color": "#ff0000", "strokeWidth": 2},
    "encoding": {"x": {"datum": 0.1, "type": "quantitative"}, "x2": {"datum": 0.8}, "y": {"datum": 12.76, "type": "quantitative"}}}
  ]}
 ],
 "resolve": {"scale": {"x": "independent", "y": "independent"}}
},
{"width": 226, "height": 249,
 "layer": [
  {"layer": [
   {"data": {"name": "cg"}, "mark": {"type": "line", "color": "#000", "strokeWidth": 2.2},
    "encoding": {"x": {"field": "x", "type": "quantitative", "scale": {"domain": [-18.3, 396], "nice": false, "zero": false}, "axis": {"values": [0, 200], "title": "Actual stress (MPa)"}},
                 "y": {"field": "y", "type": "quantitative", "scale": {"domain": [-21, 414], "nice": false, "zero": false}, "axis": {"values": [0, 100, 200, 300, 400], "title": "Predicted Stress (MPa)"}},
                 "detail": {"field": "c", "type": "nominal"}}},
   {"data": {"name": "dg"}, "mark": {"type": "circle", "size": 7, "color": "#333", "opacity": 0.85},
    "encoding": {"x": {"field": "x", "type": "quantitative"}, "y": {"field": "y", "type": "quantitative"}}},
   {"data": {"name": "diag"}, "mark": {"type": "line", "color": "#f21818", "strokeWidth": 4, "strokeDash": [12, 6]},
    "encoding": {"x": {"field": "x", "type": "quantitative"}, "y": {"field": "x", "type": "quantitative"}}},
   {"data": {"name": "one"}, "mark": {"type": "text", "fontSize": 24, "align": "center", "baseline": "alphabetic", "color": "#000"},
    "encoding": {"x": {"datum": 345, "type": "quantitative"}, "y": {"datum": 10, "type": "quantitative"}, "text": {"value": "g"}}}
  ]},
  {"layer": [
   {"data": {"name": "one"}, "mark": {"type": "rect", "fill": "#fff", "stroke": "#222", "strokeWidth": 1.3},
    "encoding": {"x": {"datum": -0.06, "type": "quantitative", "scale": {"domain": [-0.06, 1.06], "range": [71, 103], "nice": false, "zero": false}, "axis": null},
                 "x2": {"datum": 1.06},
                 "y": {"datum": 1.008, "type": "quantitative", "scale": {"type": "log", "domain": [1.008, 616.3], "range": [107, 7], "nice": false}, "axis": {"orient": "left", "offset": -71, "values": [3, 207], "format": "d", "title": "MAPE (%)", "tickSize": 6, "labelPadding": 9, "titlePadding": 8}},
                 "y2": {"datum": 616.3}}},
   {"data": {"name": "vg"}, "mark": {"type": "area", "orient": "horizontal", "fill": "#3274a1", "stroke": "#404040", "strokeWidth": 1.5},
    "encoding": {"y": {"field": "v", "type": "quantitative"}, "x": {"field": "w", "type": "quantitative", "stack": "center", "impute": null}}},
   {"data": {"name": "one"}, "mark": {"type": "rule", "color": "#ff0000", "strokeWidth": 2},
    "encoding": {"x": {"datum": 0.1, "type": "quantitative"}, "x2": {"datum": 0.8}, "y": {"datum": 5.35, "type": "quantitative"}}}
  ]}
 ],
 "resolve": {"scale": {"x": "independent", "y": "independent"}}
},
{"width": 238, "height": 249,
 "layer": [
  {"layer": [
   {"data": {"name": "ch"}, "mark": {"type": "line", "color": "#000", "strokeWidth": 2.2},
    "encoding": {"x": {"field": "x", "type": "quantitative", "scale": {"domain": [-23, 398], "nice": false, "zero": false}, "axis": {"values": [0, 200], "title": "Actual stress (MPa)"}},
                 "y": {"field": "y", "type": "quantitative", "scale": {"domain": [-23.5, 394], "nice": false, "zero": false}, "axis": {"values": [0, 100, 200, 300], "title": "Predicted Stress (MPa)"}},
                 "detail": {"field": "c", "type": "nominal"}}},
   {"data": {"name": "dh"}, "mark": {"type": "circle", "size": 7, "color": "#333", "opacity": 0.85},
    "encoding": {"x": {"field": "x", "type": "quantitative"}, "y": {"field": "y", "type": "quantitative"}}},
   {"data": {"name": "diag"}, "mark": {"type": "line", "color": "#f21818", "strokeWidth": 4, "strokeDash": [12, 6]},
    "encoding": {"x": {"field": "x", "type": "quantitative"}, "y": {"field": "x", "type": "quantitative"}}},
   {"data": {"name": "one"}, "mark": {"type": "text", "fontSize": 24, "align": "center", "baseline": "alphabetic", "color": "#000"},
    "encoding": {"x": {"datum": 331, "type": "quantitative"}, "y": {"datum": 5, "type": "quantitative"}, "text": {"value": "h"}}}
  ]},
  {"layer": [
   {"data": {"name": "one"}, "mark": {"type": "rect", "fill": "#fff", "stroke": "#222", "strokeWidth": 1.3},
    "encoding": {"x": {"datum": -0.06, "type": "quantitative", "scale": {"domain": [-0.06, 1.06], "range": [65, 109], "nice": false, "zero": false}, "axis": null},
                 "x2": {"datum": 1.06},
                 "y": {"datum": 0.8135, "type": "quantitative", "scale": {"type": "log", "domain": [0.8135, 83.6], "range": [110, 7], "nice": false}, "axis": {"orient": "left", "offset": -65, "values": [2, 34], "format": "d", "title": "MAPE (%)", "tickSize": 6, "labelPadding": 9, "titlePadding": 8}},
                 "y2": {"datum": 83.6}}},
   {"data": {"name": "vh"}, "mark": {"type": "area", "orient": "horizontal", "fill": "#3274a1", "stroke": "#404040", "strokeWidth": 1.5},
    "encoding": {"y": {"field": "v", "type": "quantitative"}, "x": {"field": "w", "type": "quantitative", "stack": "center", "impute": null}}},
   {"data": {"name": "one"}, "mark": {"type": "rule", "color": "#ff0000", "strokeWidth": 2},
    "encoding": {"x": {"datum": 0.1, "type": "quantitative"}, "x2": {"datum": 0.8}, "y": {"datum": 7.37, "type": "quantitative"}}}
  ]}
 ],
 "resolve": {"scale": {"x": "independent", "y": "independent"}}
}
]
}
